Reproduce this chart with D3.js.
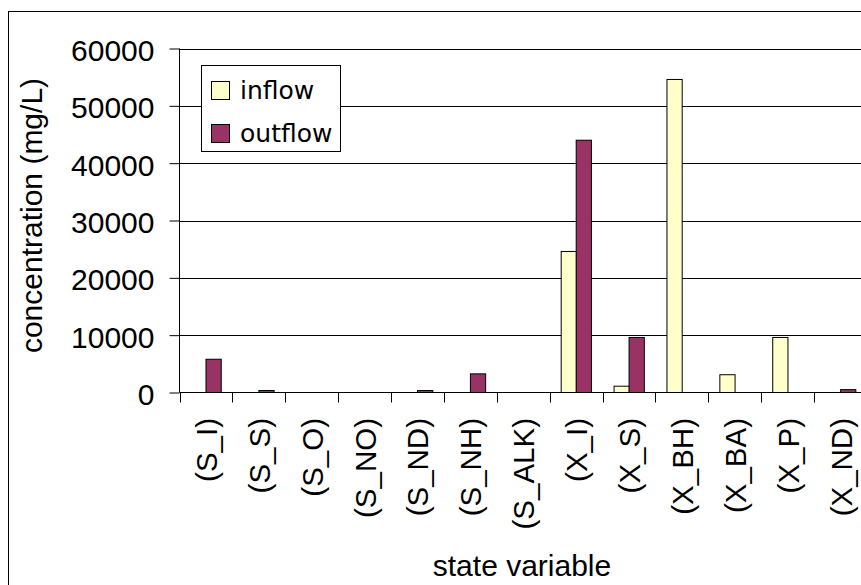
<!DOCTYPE html>
<html>
<head>
<meta charset="utf-8">
<script src="https://cdn.jsdelivr.net/npm/d3@7"></script>
<style>
  html, body { margin: 0; padding: 0; background: #fff; }
  svg { display: block; }
</style>
</head>
<body>
<svg id="chart" width="861" height="585"></svg>
<script>
const categories = ["(S_I)", "(S_S)", "(S_O)", "(S_NO)", "(S_ND)", "(S_NH)", "(S_ALK)", "(X_I)", "(X_S)", "(X_BH)", "(X_BA)", "(X_P)", "(X_ND)"];
const seriesNames = ["inflow", "outflow"];
const inflow  = [0, 0, 0, 0, 0, 0, 0, 24600, 1100, 54600, 3100, 9600, 0];
const outflow = [5800, 350, 0, 0, 350, 3250, 0, 44000, 9600, 0, 0, 0, 500];
const yTicks = [0, 10000, 20000, 30000, 40000, 50000, 60000];
const colors = { inflow: "#FFFFCC", outflow: "#993366" };

(function () {
const svg = d3.select("#chart");
const font = "'Liberation Sans', Arial, sans-serif";

// outer chart border
svg.append("rect").attr("x", 8.5).attr("y", 11.5).attr("width", 900).attr("height", 600)
  .attr("fill", "#fff").attr("stroke", "#000").attr("stroke-width", 1);

const pLeft = 179.5, pRight = 867, pTop = 48.5, pBottom = 392.5;
const x = d3.scaleBand().domain(categories).range([pLeft, pRight]).padding(0);
const x1 = d3.scaleBand().domain(seriesNames).range([0, x.bandwidth()]).paddingInner(0).paddingOuter(0.736);
const y = d3.scaleLinear().domain([0, 60000]).range([pBottom, pTop]);

// gridlines
svg.append("g").selectAll("line").data(yTicks.filter(d => d > 0)).join("line")
  .attr("x1", pLeft).attr("x2", 861).attr("y1", d => Math.round(y(d)) + 0.5).attr("y2", d => Math.round(y(d)) + 0.5)
  .attr("stroke", "#000").attr("stroke-width", 1);

// bars
const data = categories.map((c, i) => ({ cat: c, inflow: inflow[i], outflow: outflow[i] }));
const groups = svg.append("g").selectAll("g").data(data).join("g")
  .attr("transform", d => `translate(${x(d.cat)},0)`);
groups.selectAll("rect")
  .data(d => seriesNames.map(s => ({ s, v: d[s] })).filter(e => e.v > 0))
  .join("rect")
  .attr("x", d => Math.round(x1(d.s)) + 0.5)
  .attr("width", x1.bandwidth())
  .attr("y", d => y(d.v))
  .attr("height", d => y(0) - y(d.v))
  .attr("fill", d => colors[d.s])
  .attr("stroke", "#000").attr("stroke-width", 1);

// y axis
const yAxis = d3.axisLeft(y).tickValues(yTicks).tickSize(10).tickPadding(15).tickFormat(d3.format("d"));
const gy = svg.append("g").attr("transform", `translate(${pLeft},0)`).call(yAxis);
gy.selectAll("text").attr("font-family", font).attr("font-size", 30).attr("fill", "#000").attr("dy", "0.4em");
gy.selectAll("line").attr("stroke", "#000");
gy.select(".domain").attr("stroke", "#000").attr("d", `M0,${pTop}V${pBottom}`);

// x axis
const xAxis = d3.axisBottom(x).tickSize(0).tickFormat("");
const gx = svg.append("g").attr("transform", `translate(0,${pBottom})`).call(xAxis);
gx.select(".domain").attr("stroke", "#000").attr("d", `M${pLeft},0H${861}`);
const bounds = categories.map(c => x(c)).concat([pRight]);
gx.selectAll(".bnd").data(bounds).join("line").attr("class", "bnd")
  .attr("x1", d => Math.round(d) + 0.5).attr("x2", d => Math.round(d) + 0.5)
  .attr("y1", 0).attr("y2", 10).attr("stroke", "#000");

// category labels
svg.append("g").selectAll("text").data(categories).join("text")
  .attr("transform", d => `translate(${x(d) + x.bandwidth() / 2 + 11},418) rotate(-90)`)
  .attr("text-anchor", "end")
  .attr("font-family", font).attr("font-size", 29.5).attr("fill", "#000")
  .text(d => d);

// axis titles
svg.append("text").attr("transform", `translate(42,${(78 + 353) / 2}) rotate(-90)`)
  .attr("text-anchor", "middle").attr("font-family", font).attr("font-size", 30).attr("fill", "#000")
  .text("concentration (mg/L)");
svg.append("text").attr("x", 522).attr("y", 576)
  .attr("text-anchor", "middle").attr("font-family", font).attr("font-size", 30).attr("fill", "#000")
  .text("state variable");

// legend
const lg = svg.append("g");
lg.append("rect").attr("x", 201.5).attr("y", 65.5).attr("width", 139).attr("height", 86)
  .attr("fill", "#fff").attr("stroke", "#000");
const items = lg.selectAll("g").data(seriesNames).join("g")
  .attr("transform", (d, i) => `translate(0,${i * 43})`);
items.append("rect").attr("x", 211.5).attr("y", 81.5).attr("width", 18).attr("height", 18)
  .attr("fill", d => colors[d]).attr("stroke", "#000");
items.append("text").attr("x", 240).attr("y", 99)
  .attr("font-family", "'DejaVu Sans', Verdana, sans-serif").attr("font-size", 25).attr("fill", "#000")
  .text(d => d);
})();
</script>
</body>
</html>
